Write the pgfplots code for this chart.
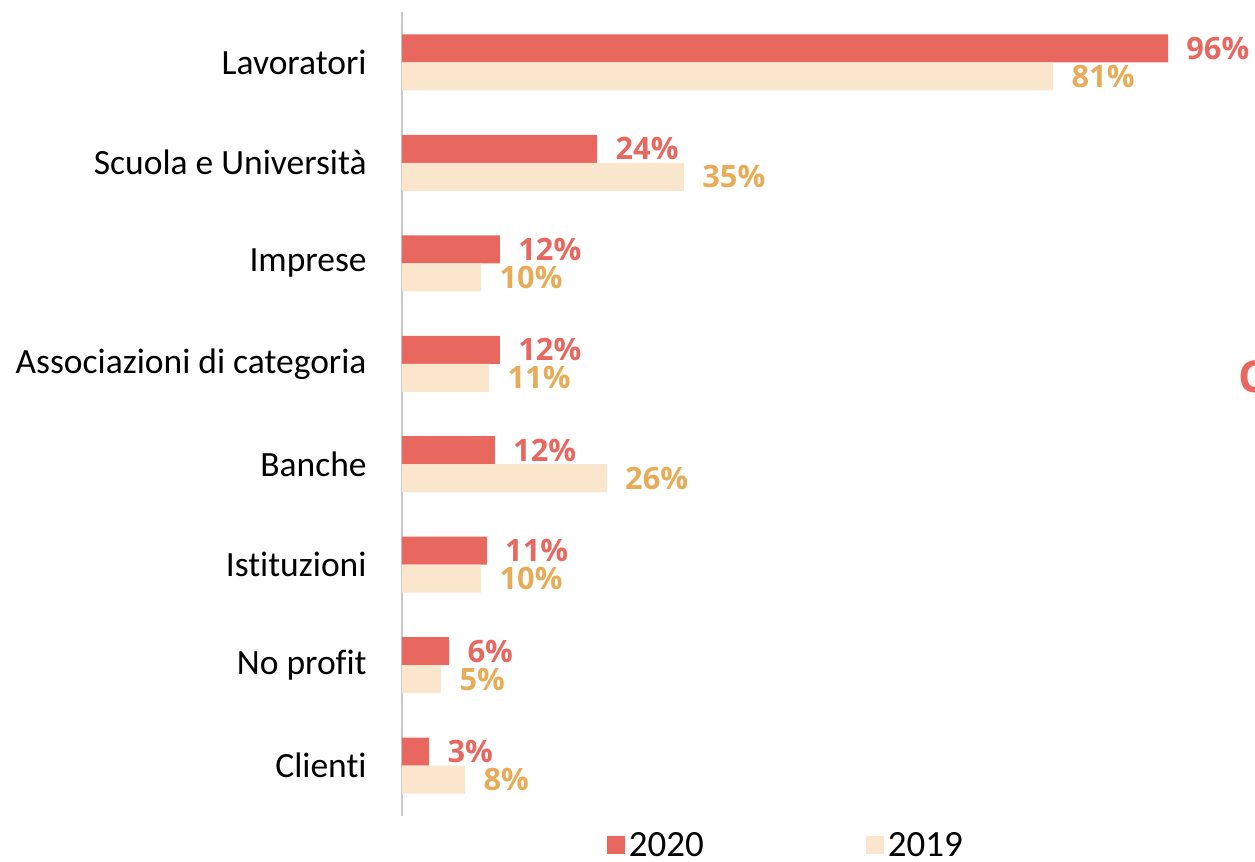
\documentclass[border=0pt]{standalone}
\usepackage{pgfplots}
\pgfplotsset{compat=1.18}
\usepackage{fontspec}
\setmainfont[Ligatures=NoCommon]{Carlito}
\newfontfamily\labfont{Open Sans}
\definecolor{red20}{RGB}{232,104,96}
\definecolor{beige19}{RGB}{249,230,204}
\definecolor{orange19}{RGB}{232,172,88}
\definecolor{axgray}{RGB}{200,200,200}
\begin{document}
\begin{tikzpicture}
\begin{axis}[
  at={(201pt,23pt)}, anchor=south west,
  scale only axis, width=400pt, height=402pt,
  xmin=0, xmax=100, ymin=-0.5, ymax=7.5,
  xbar, bar width=14pt,
  axis x line=none,
  axis y line*=left,
  y axis line style={axgray, line width=1.2pt, -},
  ytick={0,...,7},
  yticklabels={Clienti, No profit, Istituzioni, Banche, Associazioni di categoria, Imprese, Scuola e Università, Lavoratori},
  major tick length=0pt,
  yticklabel style={font=\fontsize{17.75}{20}\selectfont, inner sep=0pt, xshift=-17.5pt},
  clip=false,
  point meta=x,
  /pgf/number format/assume math mode=true,
  nodes near coords={\pgfmathprintnumber[fixed, precision=0]{\pgfplotspointmeta}\%},
  nodes near coords style={anchor=west, inner sep=0pt, xshift=9pt, font=\labfont\bfseries\fontsize{15.4}{18}\selectfont},
  legend columns=2,
  legend image code/.code={\fill[#1,draw=none] (0pt,-4.5pt) rectangle (9pt,4.5pt);},
  legend style={at={(0.481,-0.036)}, anchor=center, draw=none, fill=none,
    font=\fontsize{18.5}{21}\selectfont,
    nodes={inner ysep=0pt, text depth=0pt},
    /tikz/every even column/.append style={column sep=79pt}},
]
\addplot[fill=red20, draw=none, bar shift=7pt, every node near coord/.append style={text=red20}]
  coordinates {(95.75,7) (24.4,6) (12.25,5) (12.25,4) (11.6,3) (10.6,2) (5.9,1) (3.4,0)};
\addplot[fill=beige19, draw=none, bar shift=-7pt, every node near coord/.append style={text=orange19}]
  coordinates {(81.4,7) (35.25,6) (9.9,5) (10.9,4) (25.6,3) (9.9,2) (4.9,1) (7.9,0)};
\legend{2020, 2019}
\end{axis}
\node[anchor=base west, inner sep=0pt, text=red20, font=\labfont\bfseries\fontsize{22}{26}\selectfont] at (619pt,234.5pt) {C};
\pgfresetboundingbox
\path[use as bounding box] (0,0) rectangle (627.5pt,431pt);
\end{tikzpicture}
\end{document}
